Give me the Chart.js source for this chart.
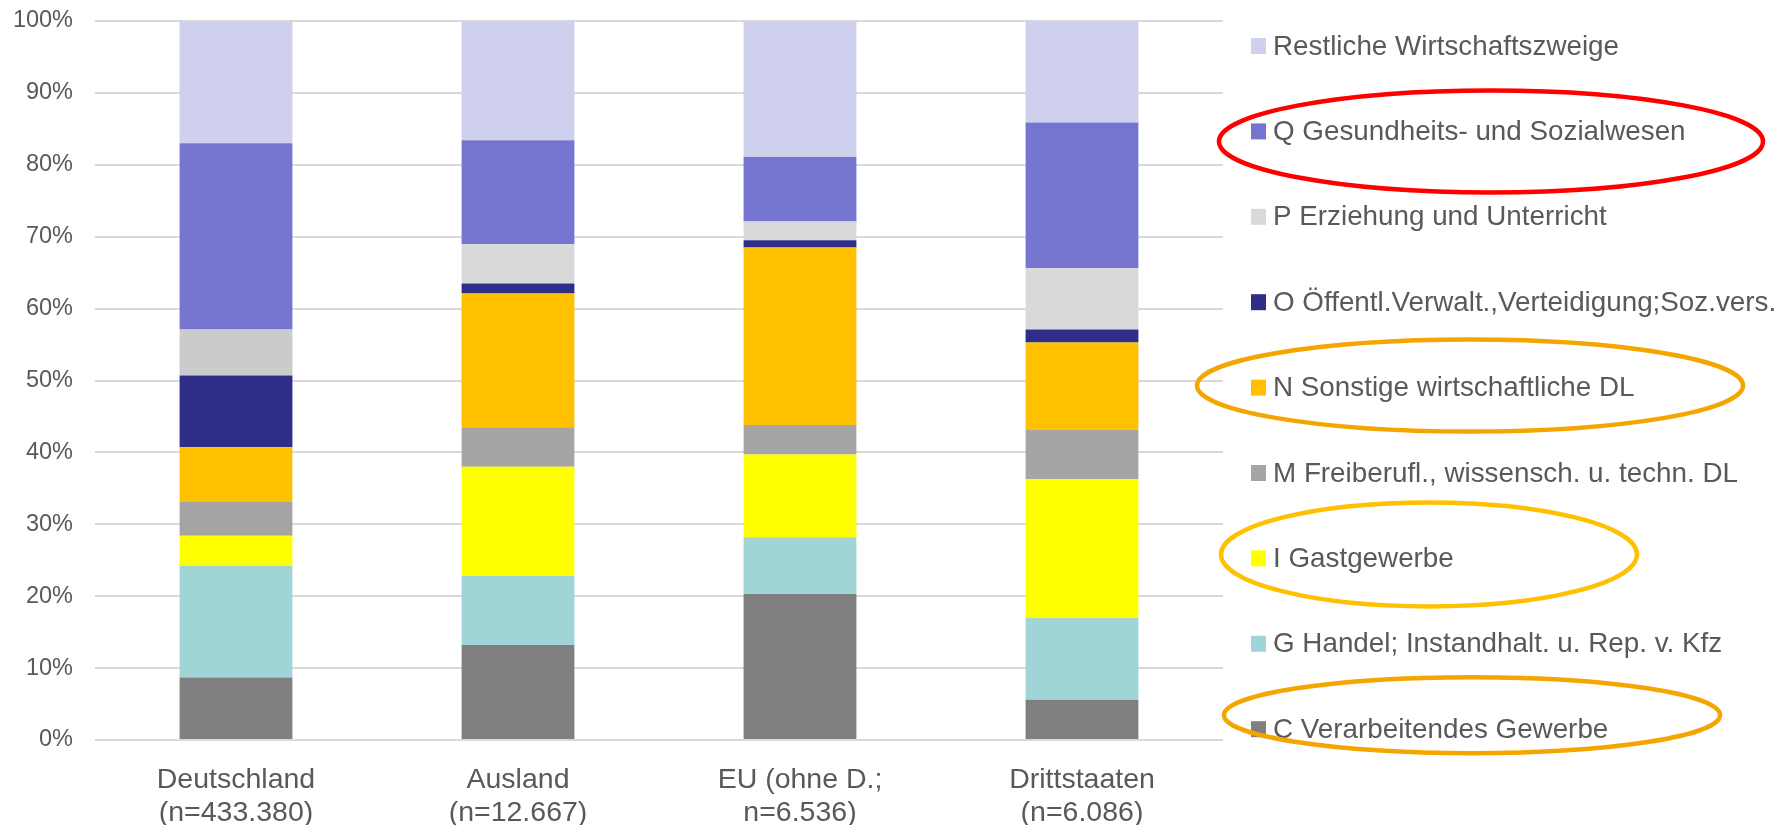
<!DOCTYPE html>
<html>
<head>
<meta charset="utf-8">
<script src="https://cdn.jsdelivr.net/npm/chart.js@4.4.0/dist/chart.umd.min.js"></script>
<style>
  html, body { margin: 0; padding: 0; background: #fff; }
  #wrap { width: 1785px; height: 825px; }
</style>
</head>
<body>
<div id="wrap"><canvas id="branchen"></canvas></div>
<script>
const categories = [
    ['Deutschland', '(n=433.380)'],
    ['Ausland', '(n=12.667)'],
    ['EU (ohne D.;', 'n=6.536)'],
    ['Drittstaaten', '(n=6.086)']
];

// Anteile in %, unterstes Segment zuerst
const verarbeitendes = [8.7, 13.2, 20.3, 5.6];
const handel = [15.5, 9.6, 7.9, 11.4];
const gastgewerbe = [4.2, 15.2, 11.5, 19.3];
const freiberufl = [4.7, 5.5, 4.1, 6.9];
const sonstigeDL = [7.6, 18.6, 24.7, 12.1];
const oeffentl = [10.0, 1.4, 1.0, 1.8];
const erziehung = [6.4, 5.5, 2.6, 8.5];
const gesundheit = [25.9, 14.4, 9.0, 20.3];
const restliche = [17.0, 16.6, 18.9, 14.1];

const yTicks = [0, 10, 20, 30, 40, 50, 60, 70, 80, 90, 100];

// legend + markings on the right
const LEGEND_X = 1251;
const LEGEND_TOP = 46;
const LEGEND_STEP = 85.4;
const highlights = [
    { label: 'Q Gesundheits- und Sozialwesen', color: '#ff0000', dx: 240, dy: 10, rx: 272, ry: 51 },
    { label: 'N Sonstige wirtschaftliche DL', color: '#f5a500', dx: 219, dy: -2, rx: 273, ry: 46 },
    { label: 'I Gastgewerbe', color: '#ffc000', dx: 178, dy: -4, rx: 208, ry: 52 },
    { label: 'C Verarbeitendes Gewerbe', color: '#f5a500', dx: 221, dy: -14, rx: 248, ry: 38 }
];

const FONT = '"Liberation Sans", Arial, sans-serif';
Chart.defaults.font.family = FONT;
Chart.defaults.color = '#595959';

const sideLegend = {
    id: 'sideLegend',
    afterDraw(chart) {
        const ctx = chart.ctx;
        const items = chart.data.datasets.slice().reverse();
        const rows = {};
        ctx.save();
        ctx.font = '27.8px ' + FONT;
        ctx.textBaseline = 'middle';
        items.forEach((ds, i) => {
            const y = LEGEND_TOP + i * LEGEND_STEP;
            rows[ds.label] = y;
            ctx.fillStyle = ds.legendColor || ds.backgroundColor;
            ctx.fillRect(LEGEND_X, y - 8, 15, 16);
            ctx.fillStyle = '#595959';
            ctx.fillText(ds.label, LEGEND_X + 22, y + 1);
        });
        ctx.lineWidth = 4.5;
        highlights.forEach(h => {
            ctx.strokeStyle = h.color;
            ctx.beginPath();
            ctx.ellipse(LEGEND_X + h.dx, rows[h.label] + h.dy, h.rx, h.ry, 0, 0, Math.PI * 2);
            ctx.stroke();
        });
        ctx.restore();
    }
};

const ctx = document.getElementById('branchen').getContext('2d');

const branchenChart = new Chart(ctx, {
    type: 'bar',
    data: {
        labels: categories,
        datasets: [
            { label: 'C Verarbeitendes Gewerbe', data: verarbeitendes, backgroundColor: '#7f7f7f' },
            { label: 'G Handel; Instandhalt. u. Rep. v. Kfz', data: handel, backgroundColor: '#a0d4d7' },
            { label: 'I Gastgewerbe', data: gastgewerbe, backgroundColor: '#ffff00' },
            { label: 'M Freiberufl., wissensch. u. techn. DL', data: freiberufl, backgroundColor: '#a5a5a5' },
            { label: 'N Sonstige wirtschaftliche DL', data: sonstigeDL, backgroundColor: '#ffc000' },
            { label: 'O Öffentl.Verwalt.,Verteidigung;Soz.vers.', data: oeffentl, backgroundColor: '#2e2e88' },
            { label: 'P Erziehung und Unterricht', data: erziehung,
              backgroundColor: ['#cbcbcb', '#d9d9d9', '#d9d9d9', '#d9d9d9'], legendColor: '#d9d9d9' },
            { label: 'Q Gesundheits- und Sozialwesen', data: gesundheit, backgroundColor: '#7575cf' },
            { label: 'Restliche Wirtschaftszweige', data: restliche, backgroundColor: '#cfd0ed' }
        ]
    },
    options: {
        responsive: true,
        maintainAspectRatio: false,
        animation: false,
        layout: { padding: { top: 21, right: 562, bottom: 0, left: 0 } },
        datasets: {
            bar: { barPercentage: 0.4, categoryPercentage: 1.0, borderWidth: 0 }
        },
        plugins: {
            legend: { display: false },
            tooltip: { enabled: false }
        },
        scales: {
            x: {
                stacked: true,
                grid: { display: false },
                border: { display: false },
                ticks: {
                    padding: 16,
                    maxRotation: 0,
                    font: { size: 28.5, lineHeight: 1.16 }
                },
                afterFit: (scale) => { scale.height = 85; }
            },
            y: {
                stacked: true,
                min: 0,
                max: 100,
                grid: { color: '#d9d9d9', lineWidth: 2, drawTicks: false },
                border: { display: false },
                ticks: {
                    padding: 22,
                    font: { size: 23.5 },
                    callback: (v) => v + '%'
                },
                afterBuildTicks: (scale) => { scale.ticks = yTicks.map(v => ({ value: v })); },
                afterFit: (scale) => {
                    scale.width = 95;
                    scale.paddingTop = 0;
                    scale.paddingBottom = 0;
                }
            }
        }
    },
    plugins: [sideLegend]
});
</script>
</body>
</html>
